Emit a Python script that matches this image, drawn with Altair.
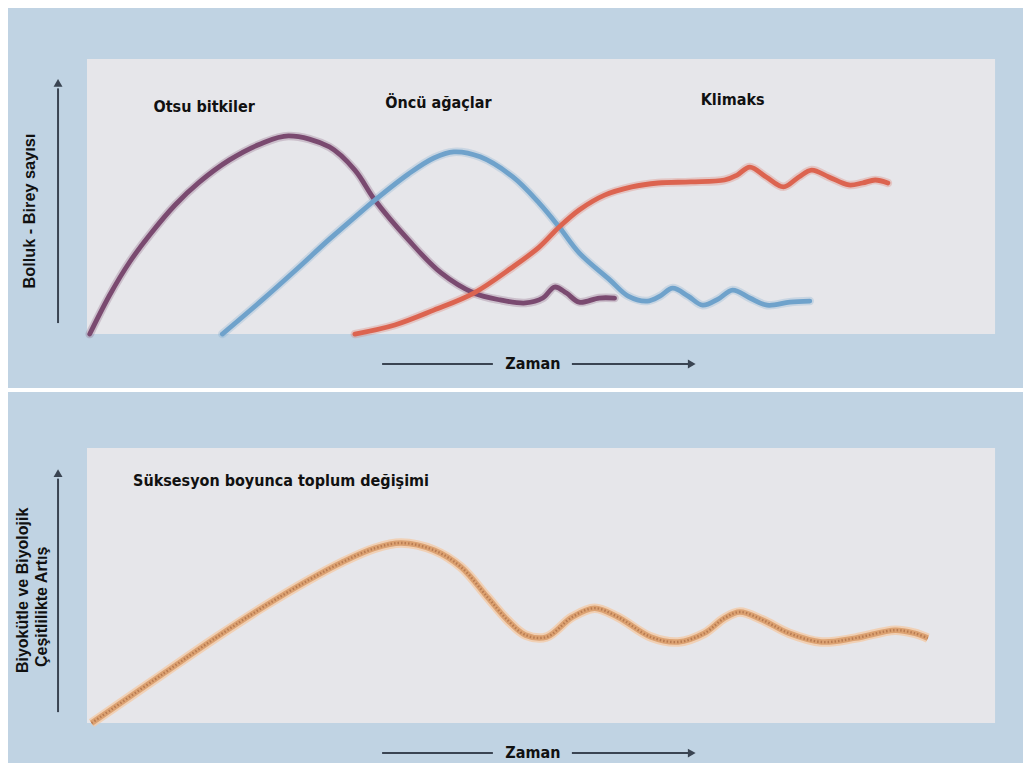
import altair as alt
import pandas as pd

# ---------------- data (time 0-100 across the grey plot area, value 0-100 up) -------------
otsu_t = [0.3, 2.5, 4.7, 6.9, 9.7, 12.4, 15.7, 19.1, 22.2, 26.7, 29.5, 31.7, 35.4, 39.0, 42.6,
          45.5, 48.3, 50.2, 51.5, 52.8, 54.2, 56.4, 58.1]
otsu_v = [0.0, 14.2, 26.2, 36.0, 46.9, 55.3, 63.3, 69.1, 72.0, 68.0, 59.6, 48.7, 34.2, 22.2, 14.9,
          12.4, 11.3, 13.1, 17.1, 14.9, 11.6, 13.1, 13.1]

oncu_t = [14.9, 19.4, 23.0, 26.7, 29.5, 31.7, 35.4, 38.2, 40.4, 43.3, 46.9, 49.8, 52.0, 54.2,
          57.6, 59.6, 61.7, 63.1, 64.5, 66.2, 67.8, 69.5, 71.1, 73.0, 74.9, 77.4, 79.6]
oncu_v = [0.0, 12.7, 23.3, 34.5, 42.5, 48.7, 58.2, 64.0, 66.2, 64.4, 57.1, 47.6, 38.9, 29.5,
          19.6, 13.8, 12.0, 13.8, 16.7, 13.8, 10.5, 12.7, 16.0, 13.1, 10.5, 11.6, 12.0]

klimaks_t = [29.5, 33.9, 38.2, 42.6, 46.9, 49.8, 52.0, 54.2, 57.0, 60.0, 62.9, 66.5, 70.2, 71.6,
             73.0, 74.8, 76.7, 78.4, 79.8, 81.7, 83.9, 85.4, 86.8, 88.2]
klimaks_v = [0.0, 3.3, 8.7, 14.9, 24.4, 31.6, 38.9, 45.1, 50.5, 53.5, 54.9, 55.3, 56.0, 57.8,
             60.7, 57.1, 53.5, 57.1, 59.6, 57.1, 54.2, 54.9, 56.0, 54.9]

toplum_t = [0.5, 8.5, 14.3, 19.4, 24.4, 28.1, 31.7, 34.6, 38.2, 41.2, 44.1, 46.3, 48.3, 50.6,
            53.4, 55.9, 58.5, 62.1, 65.1, 68.0, 70.2, 71.9, 74.4, 77.3, 80.9, 84.6, 89.0, 91.1, 92.6]
toplum_v = [0.0, 18.2, 31.3, 42.2, 52.0, 58.5, 63.6, 65.5, 62.9, 56.7, 45.8, 37.5, 32.0, 31.3,
            38.5, 41.8, 38.5, 31.3, 29.5, 32.7, 38.2, 40.4, 37.5, 32.7, 29.5, 30.9, 33.8, 32.7, 30.9]

series_names = ["Otsu bitkiler", "Öncü ağaçlar", "Klimaks"]
series_colors = ["#7a4a70", "#6fa2cb", "#dc6450"]

top_label_t = [12.9, 38.7, 71.1]
top_label_v = [82.5, 84.0, 85.1]

bottom_label = "Süksesyon boyunca toplum değişimi"
top_ytitle = "Bolluk - Birey sayısı"
bottom_ytitle = ["Biyokütle ve Biyolojik", "Çeşitlilikte Artış"]
xtitle = "Zaman"

plot_range = [0, 100]

X_DOMAIN = [-8.70, 103.08]
TOP_Y = [-19.6, 118.5]
BOT_Y = [-14.5, 120.4]

W = 1015
TOP_H = 380
BOT_H = 371

BLUE = "#c0d3e3"
GREY = "#e6e6ea"
INK = "#3a4452"
FONT_N = "Liberation Sans Narrow, Arial Narrow, DejaVu Sans Condensed, sans-serif"
FONT = "Liberation Sans, Arial, sans-serif"
INTERP = "catmull-rom"


def xs():
    return alt.Scale(domain=X_DOMAIN, nice=False, zero=False)


def ys(dom):
    return alt.Scale(domain=dom, nice=False, zero=False)


def grey_box(ydom):
    df = pd.DataFrame({"t": [plot_range[0]], "t2": [plot_range[1]],
                       "v": [plot_range[0]], "v2": [plot_range[1]]})
    return alt.Chart(df).mark_rect(color=GREY).encode(
        x=alt.X("t:Q", scale=xs(), axis=None), x2="t2",
        y=alt.Y("v:Q", scale=ys(ydom), axis=None), y2="v2")


def arrows(ydom, y_arrow_v, x_arrow_v):
    segs = pd.DataFrame({
        "t": [-3.19, 32.5, 53.4],
        "t2": [-3.19, 44.7, 66.3],
        "v": [y_arrow_v[0], x_arrow_v, x_arrow_v],
        "v2": [y_arrow_v[1] - 2, x_arrow_v, x_arrow_v],
    })
    rules = alt.Chart(segs).mark_rule(color=INK, strokeWidth=2).encode(
        x=alt.X("t:Q", scale=xs(), axis=None), x2="t2",
        y=alt.Y("v:Q", scale=ys(ydom), axis=None), y2="v2")
    heads = pd.DataFrame({"t": [-3.19, 66.6], "v": [y_arrow_v[1], x_arrow_v],
                          "s": ["triangle-up", "triangle-right"]})
    tri = alt.Chart(heads).mark_point(filled=True, color=INK, size=80, opacity=1).encode(
        x=alt.X("t:Q", scale=xs(), axis=None),
        y=alt.Y("v:Q", scale=ys(ydom), axis=None),
        shape=alt.Shape("s:N", scale=alt.Scale(domain=["triangle-up", "triangle-right"],
                                                 range=["triangle-up", "triangle-right"]),
                        legend=None))
    ztxt = alt.Chart(pd.DataFrame({"t": [49.1], "v": [x_arrow_v], "txt": [xtitle]})).mark_text(
        font=FONT_N, fontWeight="bold", fontSize=16, color="#111111", baseline="middle"
    ).encode(x=alt.X("t:Q", scale=xs(), axis=None),
             y=alt.Y("v:Q", scale=ys(ydom), axis=None), text="txt:N")
    return [rules, tri, ztxt]


# ---------------- top panel ----------------
rows = []
for name, ts, vs in zip(series_names, [otsu_t, oncu_t, klimaks_t], [otsu_v, oncu_v, klimaks_v]):
    for i, (t, v) in enumerate(zip(ts, vs)):
        rows.append({"series": name, "t": t, "v": v, "order": i})
top_df = pd.DataFrame(rows)

color_scale = alt.Scale(domain=series_names, range=series_colors)

top_halo = alt.Chart(top_df).mark_line(interpolate=INTERP, strokeWidth=8.5, opacity=0.25,
                                       strokeCap="round").encode(
    x=alt.X("t:Q", scale=xs(), axis=None),
    y=alt.Y("v:Q", scale=ys(TOP_Y), axis=None),
    color=alt.Color("series:N", scale=color_scale, legend=None),
    order="order:Q", detail="series:N")
top_lines = alt.Chart(top_df).mark_line(interpolate=INTERP, strokeWidth=4.8,
                                        strokeCap="round").encode(
    x=alt.X("t:Q", scale=xs(), axis=None),
    y=alt.Y("v:Q", scale=ys(TOP_Y), axis=None),
    color=alt.Color("series:N", scale=color_scale, legend=None),
    order="order:Q", detail="series:N")

top_labels = alt.Chart(pd.DataFrame({"t": top_label_t, "v": top_label_v, "txt": series_names})).mark_text(
    font=FONT_N, fontWeight="bold", fontSize=16, color="#111111", baseline="middle"
).encode(x=alt.X("t:Q", scale=xs(), axis=None),
         y=alt.Y("v:Q", scale=ys(TOP_Y), axis=None), text="txt:N")

top_ytitle_ch = alt.Chart(pd.DataFrame({"t": [-6.28], "v": [44.7], "txt": [top_ytitle]})).mark_text(
    font=FONT, fontWeight="bold", fontSize=16.3, color="#111111", angle=270, baseline="middle",
    align="center"
).encode(x=alt.X("t:Q", scale=xs(), axis=None),
         y=alt.Y("v:Q", scale=ys(TOP_Y), axis=None), text="txt:N")

top = alt.layer(grey_box(TOP_Y), top_halo, top_lines, top_labels, top_ytitle_ch,
                *arrows(TOP_Y, [4.0, 91.3], -10.9)).properties(width=W, height=TOP_H)

# ---------------- bottom panel ----------------
bot_df = pd.DataFrame({"t": toplum_t, "v": toplum_v, "order": list(range(len(toplum_t)))})


def bot_line(color, width, opacity=1.0, dash=None):
    kw = dict(interpolate=INTERP, strokeWidth=width, color=color, opacity=opacity,
              strokeCap="butt")
    if dash:
        kw["strokeDash"] = dash
    return alt.Chart(bot_df).mark_line(**kw).encode(
        x=alt.X("t:Q", scale=xs(), axis=None),
        y=alt.Y("v:Q", scale=ys(BOT_Y), axis=None), order="order:Q")


bot_label = alt.Chart(pd.DataFrame({"t": [5.07], "v": [88.0], "txt": [bottom_label]})).mark_text(
    font=FONT_N, fontWeight="bold", fontSize=16, color="#111111", baseline="middle", align="left"
).encode(x=alt.X("t:Q", scale=xs(), axis=None),
         y=alt.Y("v:Q", scale=ys(BOT_Y), axis=None), text="txt:N")

bot_ytitle_ch = alt.Chart(pd.DataFrame({"t": [-7.05, -4.96], "v": [18.2, 20.4],
                                        "txt": bottom_ytitle})).mark_text(
    font=FONT, fontWeight="bold", fontSize=16, color="#111111", angle=270, baseline="middle",
    align="left"
).encode(x=alt.X("t:Q", scale=xs(), axis=None),
         y=alt.Y("v:Q", scale=ys(BOT_Y), axis=None), text="txt:N")

bottom = alt.layer(grey_box(BOT_Y),
                   bot_line("#f3caa8", 9.5, 0.8),
                   bot_line("#dca272", 5.5),
                   bot_line("#b5774e", 2.4, 0.9, [1.5, 2]),
                   bot_label, bot_ytitle_ch,
                   *arrows(BOT_Y, [4.0, 90.9], -10.9)).properties(width=W, height=BOT_H)

chart = alt.vconcat(top, bottom, spacing=4).properties(
    padding=0, background="white"
).configure_view(fill=BLUE, stroke=None)

chart.save("out.html", embed_options={"renderer": "svg", "actions": False})
